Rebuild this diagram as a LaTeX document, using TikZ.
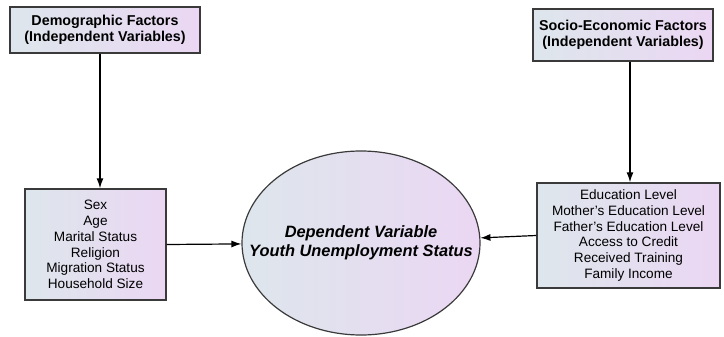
\documentclass[tikz,border=0pt]{standalone}
\usepackage{fontspec}
\setmainfont{Liberation Sans}
\usetikzlibrary{arrows, arrows.meta, shapes.geometric, positioning}
\definecolor{shadeleft}{HTML}{DDE6EC}
\definecolor{shaderight}{HTML}{EBD7F3}
\definecolor{edgegray}{HTML}{3A3A3A}

\begin{document}
\begin{tikzpicture}
  [x=1pt, y=-1pt,
   factor/.style={rectangle, draw=edgegray, line width=1.5pt, left color=shadeleft,
     right color=shaderight, align=center, inner sep=0pt,
     font=\fontsize{14.3}{15.5}\selectfont\bfseries},
   varlist/.style={rectangle, draw=edgegray, line width=1.5pt, left color=shadeleft,
     right color=shaderight, align=center, inner sep=0pt,
     font=\fontsize{13.6}{15.7}\selectfont},
   outcome/.style={ellipse, draw=edgegray, line width=1.2pt, left color=shadeleft,
     right color=shaderight, inner sep=0pt},
   outcometext/.style={align=center, inner sep=0pt,
     font=\fontsize{16.4}{19.2}\selectfont\bfseries\itshape},
   link/.style={-{Latex[length=10pt, width=7pt]}, line width=1.2pt, black}]
  \useasboundingbox (0,0) rectangle (724,337);
  \node (demo) at (105, 30) [factor, minimum width=190pt, minimum height=46pt]
    {Demographic Factors\\(Independent Variables)};
  \node (socio) at (623, 35) [factor, minimum width=180pt, minimum height=52pt]
    {Socio-Economic Factors\\(Independent Variables)};
  \node (demovars) at (95.5, 244.5) [varlist, minimum width=141pt, minimum height=111pt]
    {Sex\\Age\\Marital Status\\Religion\\Migration Status\\Household Size};
  \node (sociovars) at (628.5, 235.5) [varlist, minimum width=183pt, minimum height=105pt]
    {Education Level\\Mother's Education Level\\Father's Education Level\\Access to Credit\\Received Training\\Family Income};
  \node (dep) at (361, 243) [outcome, minimum width=238pt, minimum height=184pt] {};
  \node (deplabel) at (dep.center) [outcometext]
    {Dependent Variable\\Youth Unemployment Status};
  \draw [link] ([xshift=-5pt]demo.south) to ([xshift=4.5pt]demovars.north);
  \draw [link] ([xshift=7pt]socio.south) to ([xshift=1.5pt]sociovars.north);
  \draw [link] (demovars.east) to (dep);
  \draw [link] (sociovars.west) to (dep);
\end{tikzpicture}
\end{document}
